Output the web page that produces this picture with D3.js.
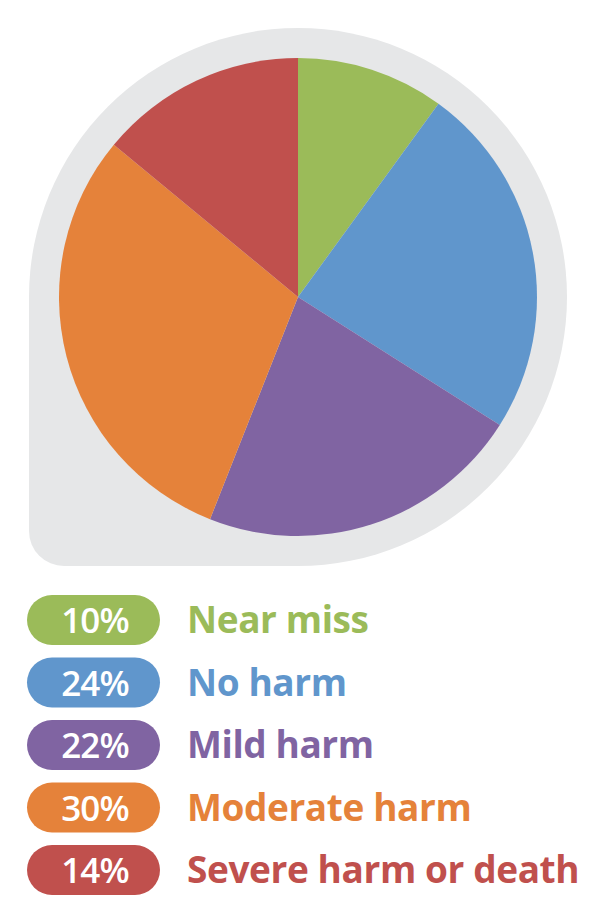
<!DOCTYPE html>
<html>
<head>
<meta charset="utf-8">
<script src="https://cdn.jsdelivr.net/npm/d3@7"></script>
<style>
  html, body { margin: 0; padding: 0; background: #fff; }
  text { font-family: "Open Sans", Lato, sans-serif; }
</style>
</head>
<body>
<div id="chart"></div>
<script>
// data
var categories = ["Near miss", "No harm", "Mild harm", "Moderate harm", "Severe harm or death"];
var values = [10, 24, 22, 30, 14];
var colors = ["#9bbb59", "#6096cc", "#8064a2", "#e5823a", "#c0504d"];

var width = 600, height = 913;
var cx = 298, cy = 297;
var radius = 239, bgRadius = 269, corner = 35;

var svg = d3.select("#chart").append("svg")
    .attr("width", width)
    .attr("height", height);

// grey tear-drop behind the pie
var bg = d3.path();
bg.moveTo(cx - bgRadius, cy);
bg.arc(cx, cy, bgRadius, Math.PI, Math.PI / 2, false);
bg.lineTo(cx - bgRadius + corner, cy + bgRadius);
bg.arcTo(cx - bgRadius, cy + bgRadius, cx - bgRadius, cy + bgRadius - corner, corner);
bg.closePath();
svg.append("path")
    .attr("d", bg.toString())
    .attr("fill", "#e6e7e8");

var pie = d3.pie().sort(null).value(function (d) { return d; });
var arc = d3.arc().innerRadius(0).outerRadius(radius);

svg.append("g")
    .attr("transform", `translate(${cx},${cy})`)
    .selectAll("path")
    .data(pie(values))
    .join("path")
    .attr("d", arc)
    .attr("fill", function (d, i) { return colors[i]; });

// legend
var y = d3.scaleBand()
    .domain(categories)
    .range([595, 895])
    .paddingInner(0.2)
    .paddingOuter(0);

var rows = svg.append("g")
    .selectAll("g")
    .data(categories)
    .join("g")
    .attr("transform", function (d) { return `translate(0,${y(d)})`; });

rows.append("rect")
    .attr("x", 27)
    .attr("width", 133)
    .attr("height", y.bandwidth())
    .attr("rx", y.bandwidth() / 2)
    .attr("fill", function (d, i) { return colors[i]; });

rows.append("text")
    .attr("x", 95)
    .attr("y", y.bandwidth() / 2 + 13)
    .attr("text-anchor", "middle")
    .attr("fill", "#fff")
    .style("font-size", "35px")
    .style("font-weight", 600)
    .style("letter-spacing", "-1px")
    .text(function (d, i) { return values[i] + "%"; });

rows.append("text")
    .attr("x", 187)
    .attr("y", y.bandwidth() / 2 + 13)
    .attr("fill", function (d, i) { return colors[i]; })
    .style("font-size", "37px")
    .style("font-weight", 700)
    .style("letter-spacing", "-0.4px")
    .text(function (d) { return d; });
</script>
</body>
</html>
